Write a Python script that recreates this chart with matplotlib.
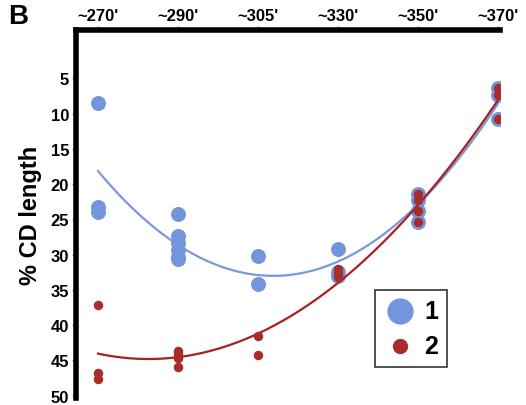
import numpy as np
import matplotlib.pyplot as plt

plt.rcParams['font.family'] = ['Liberation Sans Narrow', 'Liberation Sans', 'DejaVu Sans']
plt.rcParams['font.weight'] = 'bold'

labels = ["~270'", "~290'", "~305'", "~330'", "~350'", "~370'"]

# group 1 (blue)
x1 = [0, 0, 0, 1, 1, 1, 1, 1, 1, 2, 2, 3, 3, 3, 4, 4, 4, 4, 5, 5, 5]
y1 = [8.5, 23.2, 24.0, 24.2, 27.3, 28.3, 29.3, 30.3, 30.6, 30.2, 34.1, 29.2, 32.4, 33.0,
      21.4, 22.3, 23.8, 25.4, 6.3, 7.4, 10.8]

# group 2 (red)
x2 = [0, 0, 0, 1, 1, 1, 1, 2, 2, 3, 3, 3, 4, 4, 4, 4, 5, 5, 5]
y2 = [37.1, 46.8, 47.6, 43.6, 44.1, 44.6, 45.9, 41.5, 44.3, 32.1, 32.6, 33.2,
      21.4, 22.3, 23.8, 25.4, 6.4, 7.3, 10.8]

blue = '#7395dc'
red = '#a82c2c'

fig = plt.figure(figsize=(5.26, 4.06), dpi=100)
ax = fig.add_axes([0.1445, 0.017, 0.806, 0.907])

xs = np.linspace(0, 5, 200)
c1 = np.polyfit(x1, y1, 2)
c2 = np.polyfit(x2, y2, 2)
ax.plot(xs, np.polyval(c1, xs), color='#7a98dc', lw=1.6, zorder=2)
ax.plot(xs, np.polyval(c2, xs), color='#a82020', lw=1.6, zorder=4)

ax.scatter(x1, y1, s=95, color=blue, zorder=3, label='1')
ax.scatter(x2, y2, s=34, color=red, zorder=5, label='2')

ax.set_xlim(-0.275, 5.025)
ax.set_ylim(50.35, -1.9)
ax.xaxis.tick_top()
ax.set_xticks(range(6))
ax.set_xticklabels(labels)
ax.set_yticks([5, 10, 15, 20, 25, 30, 35, 40, 45, 50])
ax.tick_params(axis='both', labelsize=12, length=3, width=1, color='#888888', pad=2)

for s in ['right', 'bottom']:
    ax.spines[s].set_visible(False)
ax.spines['top'].set_linewidth(4)
ax.spines['left'].set_linewidth(4)

ax.set_ylabel('% CD length', fontsize=17, family='Liberation Sans', weight='bold', labelpad=6)

leg = ax.legend(loc='lower right', bbox_to_anchor=(0.875, 0.085), borderaxespad=0,
                frameon=True, fancybox=False, edgecolor='black', handletextpad=0.3,
                borderpad=0.35, labelspacing=0.45, handlelength=1.3,
                prop={'family': 'Liberation Sans', 'weight': 'bold', 'size': 18})
leg.get_frame().set_linewidth(1.2)
leg.legend_handles[0].set_sizes([320])
leg.legend_handles[1].set_sizes([100])

fig.text(0.015, 0.94, 'B', fontsize=20, family='Liberation Sans', weight='bold')

fig.savefig('out.png', dpi=100)
